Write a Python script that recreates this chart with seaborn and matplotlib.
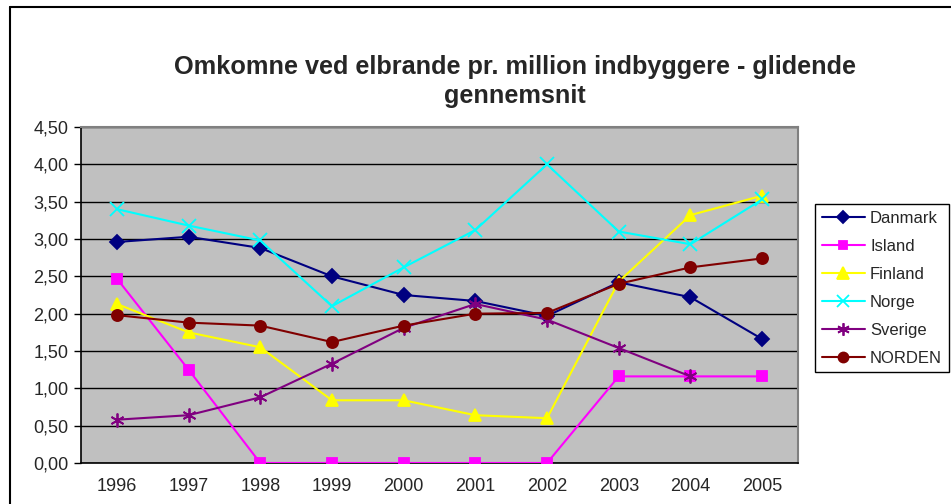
import numpy as np
import pandas as pd
import matplotlib
matplotlib.use("Agg")
import matplotlib.pyplot as plt
from matplotlib.lines import Line2D
from matplotlib.ticker import FuncFormatter, FixedLocator
import seaborn as sns

years = ["1996", "1997", "1998", "1999", "2000", "2001", "2002", "2003", "2004", "2005"]
danmark = [2.96, 3.03, 2.88, 2.50, 2.25, 2.17, 1.97, 2.42, 2.22, 1.66]
island = [2.47, 1.25, 0.0, 0.0, 0.0, 0.0, 0.0, 1.16, 1.16, 1.16]
finland = [2.13, 1.75, 1.55, 0.84, 0.84, 0.64, 0.60, 2.43, 3.32, 3.58]
norge = [3.40, 3.18, 2.98, 2.10, 2.62, 3.12, 4.00, 3.10, 2.93, 3.53]
sverige = [0.58, 0.64, 0.88, 1.33, 1.81, 2.13, 1.92, 1.54, 1.16, np.nan]
norden = [1.98, 1.88, 1.84, 1.62, 1.84, 2.00, 2.01, 2.40, 2.62, 2.74]

series_names = ["Danmark", "Island", "Finland", "Norge", "Sverige", "NORDEN"]
series_vals = [danmark, island, finland, norge, sverige, norden]
colors = ["#000080", "#FF00FF", "#FFFF00", "#00FFFF", "#800080", "#800000"]
markers = ["D", "s", "^", "x", (6, 2, 0), "o"]
msizes = [7, 7, 9, 10, 10, 8]

sns.set_style("white")
plt.rcParams['font.family'] = ['Liberation Sans', 'DejaVu Sans']

fig = plt.figure(figsize=(9.51, 5.04), dpi=100)
W, H = 951, 504
ax = fig.add_axes([81 / W, 1 - 463 / H, (798 - 81) / W, (463 - 127) / H])
ax.set_facecolor("#C0C0C0")

xpos = np.arange(len(years))
handles = []
for name, vals, c, m, ms in zip(series_names, series_vals, colors, markers, msizes):
    df = pd.DataFrame({"x": xpos, "y": vals}).dropna()
    sns.lineplot(data=df, x="x", y="y", ax=ax, color=c, marker=m, markersize=ms,
                 markeredgecolor=c, markerfacecolor=c, markeredgewidth=1.3,
                 linewidth=1.5, zorder=3, legend=False, estimator=None)
    handles.append(Line2D([0], [0], color=c, marker=m, markersize=ms * 0.9,
                          markeredgecolor=c, markerfacecolor=c, markeredgewidth=1.3,
                          linewidth=1.5, label=name))

ax.set_xlim(-0.5, len(years) - 0.5)
ax.set_ylim(0, 4.5)
ax.set_yticks(np.arange(0, 4.51, 0.5))
ax.yaxis.set_major_formatter(FuncFormatter(lambda v, p: f"{v:.2f}".replace(".", ",")))
ax.yaxis.grid(True, color="black", linewidth=1.0)
ax.set_axisbelow(True)

ax.set_xticks(xpos)
ax.set_xticklabels(years)
ax.xaxis.set_minor_locator(FixedLocator(np.arange(-0.5, len(years), 1.0)))
ax.tick_params(axis="x", which="major", length=0, labelsize=13, pad=11)
ax.tick_params(axis="x", which="minor", length=5, width=1, color="black", direction="out")
ax.tick_params(axis="y", which="major", length=5, width=1, color="black", direction="out",
               labelsize=13, pad=4, left=True)
ax.set_xlabel("")
ax.set_ylabel("")

for side in ["top", "right"]:
    ax.spines[side].set_color("#808080")
    ax.spines[side].set_linewidth(1.5)
for side in ["left", "bottom"]:
    ax.spines[side].set_color("black")
    ax.spines[side].set_linewidth(1.2)

fig.text(515 / W, 1 - 67 / H, "Omkomne ved elbrande pr. million indbyggere - glidende",
         ha="center", va="center", fontsize=18.2, fontweight="bold")
fig.text(515 / W, 1 - 96 / H, "gennemsnit",
         ha="center", va="center", fontsize=18.2, fontweight="bold")

leg = fig.legend(handles=handles, loc="upper left",
                 bbox_to_anchor=(815 / W, 1 - 204 / H), fontsize=12,
                 frameon=True, fancybox=False, edgecolor="black", framealpha=1,
                 handlelength=2.6, labelspacing=0.78, borderpad=0.4, handletextpad=0.3,
                 borderaxespad=0)
leg.get_frame().set_linewidth(1.0)

# outer chart border (top and left visible)
fig.add_artist(Line2D([10 / W, 1.0], [1 - 6.5 / H, 1 - 6.5 / H], color="black", linewidth=1.5,
                      transform=fig.transFigure))
fig.add_artist(Line2D([10 / W, 10 / W], [0, 1 - 6.5 / H], color="black", linewidth=1.5,
                      transform=fig.transFigure))

fig.savefig("out.png", dpi=100)
